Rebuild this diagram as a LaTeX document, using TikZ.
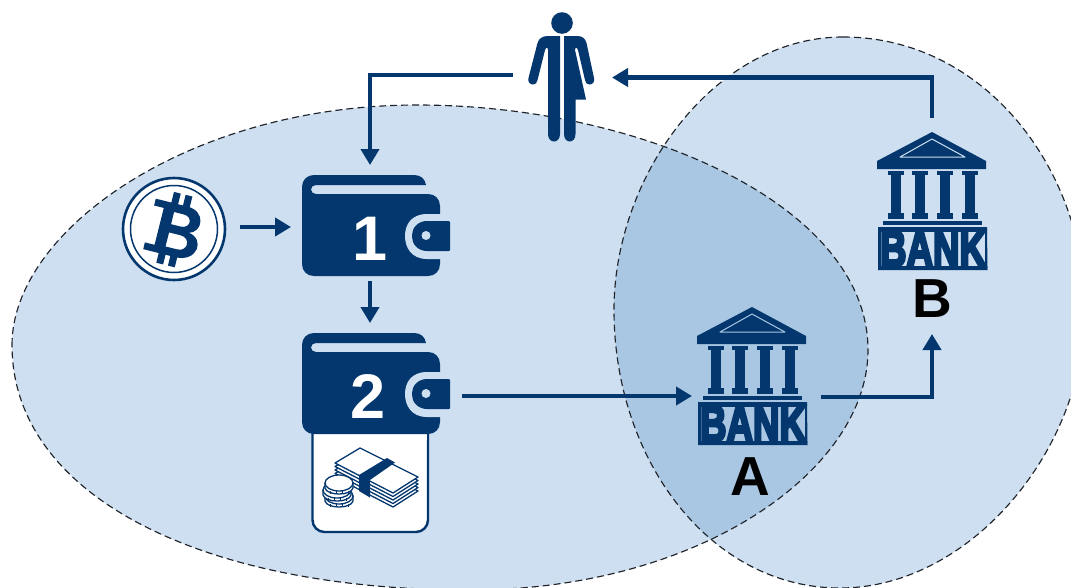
\documentclass[tikz,border=0pt]{standalone}
\usepackage{fontspec}
\usepackage{graphicx}
\setmainfont{Liberation Sans}
\newfontfamily\heavyfont[FakeBold=6]{Liberation Sans Bold}
\usetikzlibrary{arrows.meta}
\definecolor{navy}{HTML}{03376E}
\definecolor{blobc}{HTML}{CDDFF0}
\definecolor{overlapc}{HTML}{A9C6E2}
\definecolor{dashc}{HTML}{20242A}
\tikzset{
  x=1pt,y=-1pt,
  flow/.style={draw=navy,line width=4.2pt,-{Triangle[length=16pt,width=18pt]}},
  edgeline/.style={draw=dashc,line width=1.15pt,dash pattern=on 7pt off 4pt},
  holder/.style={inner sep=0pt,outer sep=0pt,minimum width=#1},
  bigdigit/.style={text=white,font=\fontsize{63}{63}\selectfont\bfseries,inner sep=0pt,anchor=base},
  banklabel/.style={text=black,font=\fontsize{55}{55}\selectfont\bfseries,inner sep=0pt,anchor=base},
}
\newcommand{\leftblob}{(12,345) .. controls (12,230) and (190,105) .. (417,105) .. controls (640,105) and (868,205) .. (868,350) .. controls (868,470) and (700,590) .. (470,590) .. controls (200,590) and (12,495) .. (12,345) -- cycle}
\newcommand{\rightblob}{(843,37) .. controls (715,37) and (614,175) .. (614,310) .. controls (614,460) and (710,588) .. (840,588) .. controls (970,588) and (1085,450) .. (1085,310) .. controls (1085,170) and (985,37) .. (843,37) -- cycle}
% wallet drawn with its top left at (0,0) of the local frame
\newcommand{\walletbody}[1]{%
  \fill[navy] (0,12) .. controls (0,5) and (5,0) .. (12,0) -- (112,0) .. controls (119,0) and (123,4) .. (124,10) -- (14,10) .. controls (11,10) and (9,12) .. (9,14.5) .. controls (9,17) and (11,19) .. (14,19) -- (126,19) .. controls (133,19) and (138,24) .. (138,31) -- (138,89) .. controls (138,96) and (133,101) .. (126,101) -- (12,101) .. controls (5,101) and (0,96) .. (0,89) -- cycle;
  \fill[#1] (139,39) -- (125,39) .. controls (109,39) and (103,50) .. (103,61) .. controls (103,72) and (109,84) .. (125,84) -- (139,84) -- cycle;
  \fill[navy,rounded corners=1pt] (148,46) -- (126,46) .. controls (116,46) and (110,53) .. (110,61) .. controls (110,69) and (116,76) .. (126,76) -- (148,76) -- cycle;
  \fill[#1] (124,60.5) circle[radius=4.5pt];
}
% bank drawn with the apex of its roof at (0,0) of the local frame
\newcommand{\bankbody}[1]{%
  \fill[navy] (0,0) -- (-55,29) -- (-55,37) -- (54,37) -- (54,29) -- cycle;
  \draw[#1,line width=1pt,line join=round] (0,7) -- (-32,25) -- (33,25) -- cycle;
  \foreach \cx in {-36,-12,13,38}{
    \fill[navy] (\cx-8,39) rectangle (\cx+8,42.5);
    \fill[navy] (\cx-5,42.5) rectangle (\cx+5,81);
    \fill[navy] (\cx-8,81) rectangle (\cx+8,87);
  }
  \fill[navy] (-49,89) rectangle (50,93);
  \fill[navy] (-54,95) -- (55,95) -- (55.5,138) -- (-54,138) -- cycle;
  \fill[#1] (-51,100) rectangle (53,133.5);
  \node[inner sep=0pt,text=navy] at (1,116.7) {\resizebox{106pt}{35pt}{\heavyfont BANK}};
}
% one coin of the stack: centre x, centre y of its top face
\newcommand{\coinlayer}[2]{%
  \draw[fill=white] (#1-14,#2) -- (#1-14,#2+5) .. controls (#1-12,#2+13) and (#1+12,#2+13) .. (#1+14,#2+5) -- (#1+14,#2) -- cycle;
  \foreach \tx in {-9,-3,3,9}{\draw[line width=1pt] (#1+\tx,#2+8) -- (#1+\tx,#2+11);}
  \draw[fill=white] (#1,#2) ellipse[x radius=14pt,y radius=8pt];
}
\begin{document}
\begin{tikzpicture}
\useasboundingbox (0,0) rectangle (1071,587);
\fill[white] (0,0) rectangle (1071,587);
\begin{scope}
\clip (0,0) rectangle (1071,587);
\fill[blobc] \leftblob;
\fill[blobc] \rightblob;
\begin{scope}
  \clip \leftblob;
  \fill[overlapc] \rightblob;
\end{scope}
\draw[edgeline] \leftblob;
\draw[edgeline] \rightblob;
\end{scope}

% holders that the connectors run between
\node[holder=99pt,minimum height=131pt] (person) at (562.5,77.5) {};
\node[holder=158pt,minimum height=116pt] (walletone) at (370,223) {};
\node[holder=184pt,minimum height=146pt] (wallettwo) at (370,396) {};
\node[holder=132pt,minimum height=104pt] (coin) at (174,227) {};
\node[holder=129pt,minimum height=140pt] (bankA) at (756.5,396) {};
\node[holder=110pt,minimum height=216pt] (bankB) at (932,226) {};

% person
\fill[navy] (562,23) circle[radius=10.8pt];
\fill[navy] (560,36) -- (548,36) .. controls (543,36) and (539,38) .. (537.5,43) -- (528.5,78) .. controls (527.5,82) and (530,84.5) .. (533,84.5) .. controls (535.5,84.5) and (537,83) .. (537.5,80) -- (545,50) .. controls (546,47) and (548,47) .. (548,50) -- (548,134) .. controls (548,144) and (560,144) .. (560,134) -- cycle;
\fill[navy] (564,36) -- (577,36) .. controls (582,36) and (585,38) .. (586.5,43) -- (594,78) .. controls (595,82) and (592.5,84.5) .. (589.5,84.5) .. controls (587,84.5) and (585.5,83) .. (585,80) -- (578,50) .. controls (577,47) and (575,47) .. (575,50) -- (586,99.5) -- (575.5,99.5) -- (575.5,134) .. controls (575.5,144) and (564,144) .. (564,134) -- cycle;

% coin
\fill[white] (174,229) circle[radius=51pt];
\draw[navy,line width=2.6pt] (174,229) circle[radius=51pt];
\draw[navy,line width=1.5pt] (174,229) circle[radius=43.5pt];
\begin{scope}[shift={(174,229)},rotate=-14]
  \fill[navy,even odd rule] (-25,-25) -- (8,-25) .. controls (27,-25) and (29,-3) .. (15,0) .. controls (33,2) and (31,27) .. (8,27) -- (-25,27) -- (-25,20) -- (-15,20) -- (-15,-18) -- (-25,-18) -- cycle
    (-4,-16.5) -- (6,-16.5) .. controls (16,-16.5) and (16,-4) .. (6,-4) -- (-4,-4) -- cycle
    (-4,4.5) -- (8,4.5) .. controls (19,4.5) and (19,19) .. (8,19) -- (-4,19) -- cycle;
  \fill[navy] (-9,-36) rectangle (-2,-23) (3,-36) rectangle (10,-23) (-9,25) rectangle (-2,37) (3,25) rectangle (10,37);
\end{scope}

% wallet 1
\begin{scope}[shift={(302,175)}]\walletbody{blobc}\end{scope}
\node[bigdigit] at (370,260) {1};

% money pocket below wallet 2
\draw[navy,line width=2.4pt,fill=white,rounded corners=12pt] (312.5,425) -- (312.5,532) -- (428,532) -- (428,425);
\fill[white] (313.7,425) rectangle (426.8,440);
\begin{scope}[line join=round,draw=navy,line width=1.3pt]
  \foreach \dy in {14,10.5,7,3.5,0}{
    \draw[fill=white] (335,463+\dy) -- (360,448+\dy) -- (418,477+\dy) -- (393,493+\dy) -- cycle;
  }
  \fill[navy] (387,458) -- (395,462.5) -- (370,480) -- (370,497.5) -- (359,491) -- (359,475) -- cycle;
  \coinlayer{339}{496}
  \coinlayer{337}{490}
  \coinlayer{339}{483}
\end{scope}

% wallet 2
\begin{scope}[shift={(302,333)}]\walletbody{blobc}\end{scope}
\node[bigdigit] at (368,418) {2};

% banks
\begin{scope}[shift={(932,132)}]\bankbody{blobc}\end{scope}
\begin{scope}[shift={(752,307)}]\bankbody{overlapc}\end{scope}
\node[banklabel] at (932,317) {B};
\node[banklabel] at (750,495) {A};

% connectors
\draw[flow] ([yshift=2.5pt]person.west) -| (walletone.north);
\draw[flow] (coin.east) -- ([yshift=-4pt]walletone.west);
\draw[flow] (walletone.south) -- (wallettwo.north);
\draw[flow] (wallettwo.east) -- (bankA.west);
\draw[flow] ([yshift=-1pt]bankA.east) -| (bankB.south);
\draw[flow] (bankB.north) |- (person.east);
\end{tikzpicture}
\end{document}
